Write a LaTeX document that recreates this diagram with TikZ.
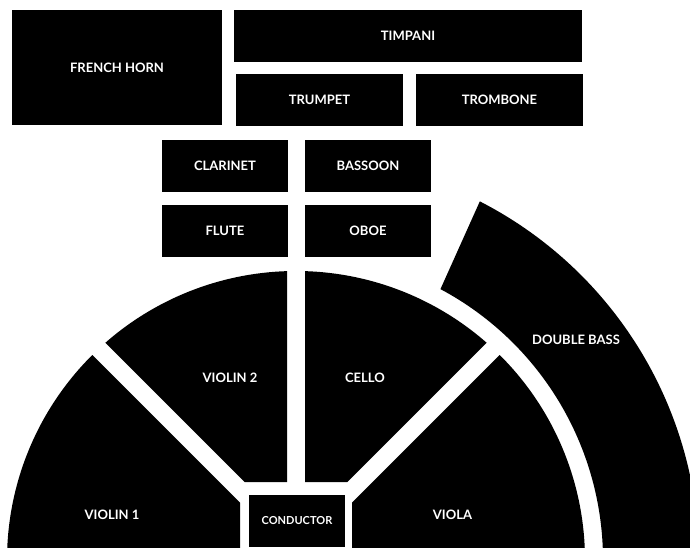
\documentclass[tikz,border=0pt]{standalone}
\usepackage{fontspec}
\setmainfont{Lato}
\usetikzlibrary{positioning}
\definecolor{stageblack}{RGB}{0,0,0}

\begin{document}
\begin{tikzpicture}[
  x=1pt, y=1pt,
  seat/.style={fill=stageblack, text=white, inner sep=0pt, outer sep=0pt,
               font=\bfseries\fontsize{13}{13}\selectfont},
  section/.style={fill=stageblack},
  lbl/.style={text=white, inner sep=0pt, font=\bfseries\fontsize{13}{13}\selectfont},
  node distance=13pt
]
\useasboundingbox (0,0) rectangle (690,547);
\clip (0,0) rectangle (690,547);

\node[seat, minimum width=210, minimum height=115] (horn)     at (117,479.5) {FRENCH HORN};
\node[seat, minimum width=348, minimum height=52]  (timpani)  at (408,511)   {TIMPANI};
\node[seat, minimum width=167, minimum height=52]  (trumpet)  at (319.5,447) {TRUMPET};
\node[seat, minimum width=167, minimum height=52, right=13pt of trumpet] (trombone) {TROMBONE};
\node[seat, minimum width=126, minimum height=52]  (clarinet) at (225,381)   {CLARINET};
\node[seat, minimum width=126, minimum height=52, right=17pt of clarinet] (bassoon) {BASSOON};
\node[seat, minimum width=126, minimum height=52, below=of clarinet] (flute) {FLUTE};
\node[seat, minimum width=126, minimum height=52, below=of bassoon]  (oboe)  {OBOE};

\fill[section] (240,-5) -- (240,44.3) -- (92.3,192)
  arc[start angle=134.82, end angle=185, radius=289] -- cycle;
\fill[section] (287,65) -- (287,275.86)
  arc[start angle=91.78, end angle=131.26, radius=289] -- (244.7,65) -- cycle;
\fill[section] (305,65) -- (305,275.86)
  arc[start angle=88.22, end angle=48.74, radius=289] -- (347.3,65) -- cycle;
\fill[section] (352,-5) -- (352,44.3) -- (499.7,192)
  arc[start angle=45.18, end angle=-5, radius=289] -- cycle;
\fill[section, shift={(296,-13)}] (61.93:307)
  arc[start angle=61.93, end angle=-3, radius=307] -- (-3:403)
  arc[start angle=-3, end angle=62.86, radius=403] -- cycle;

\node[seat, minimum width=96, minimum height=52, font=\bfseries\fontsize{11}{11}\selectfont]
  (conductor) at (297,26) {CONDUCTOR};

\node[lbl] (violinone) at (112,32)   {VIOLIN 1};
\node[lbl] (violintwo) at (230,169)  {VIOLIN 2};
\node[lbl] (cello)     at (365,169)  {CELLO};
\node[lbl] (viola)     at (452.5,32) {VIOLA};
\node[lbl] (bass)      at (576,207)  {DOUBLE BASS};
\end{tikzpicture}
\end{document}
